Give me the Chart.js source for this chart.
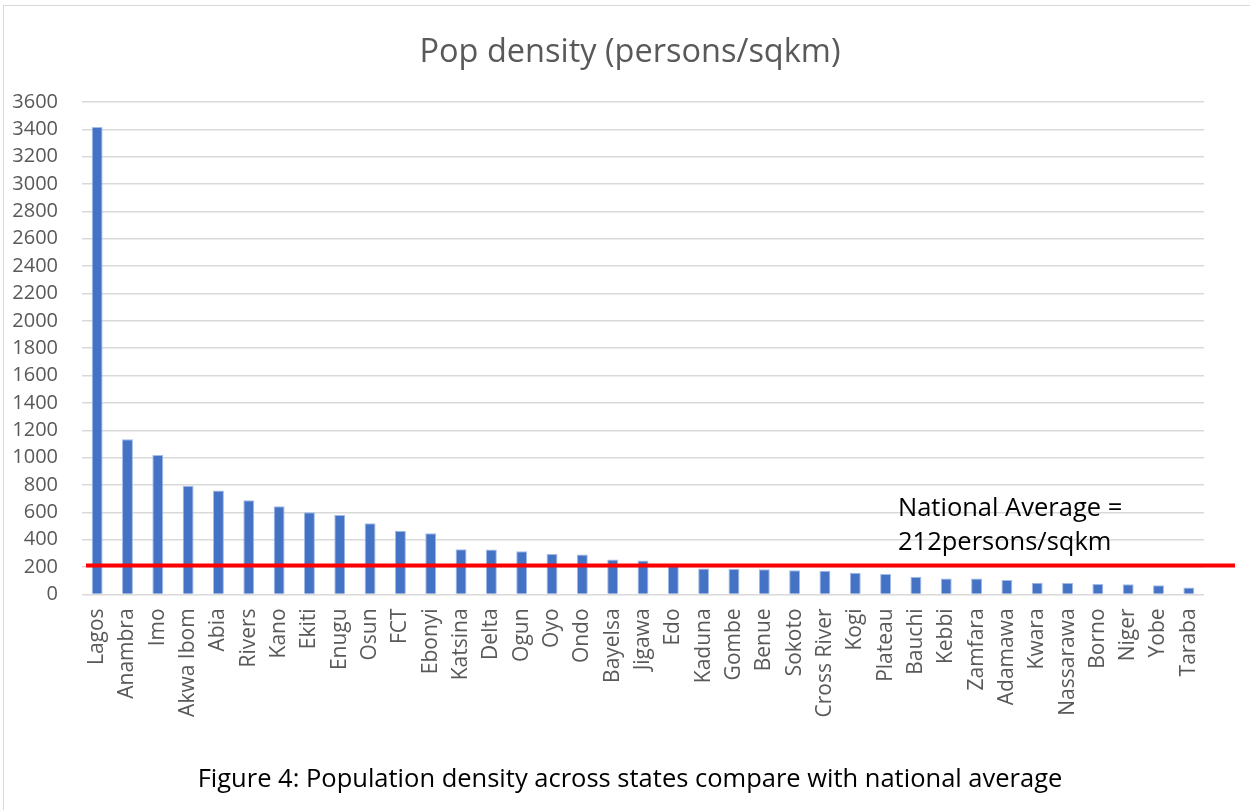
<!DOCTYPE html>
<html>
<head>
<meta charset="utf-8">
<title>Pop density (persons/sqkm)</title>
<script src="https://cdn.jsdelivr.net/npm/chart.js@4/dist/chart.umd.min.js"></script>
<style>
  html, body { margin: 0; padding: 0; background: #ffffff; overflow: hidden; }
  #wrap { position: relative; width: 1250px; height: 810px; }
</style>
</head>
<body>
<div id="wrap"><canvas id="chart" width="1250" height="810"></canvas></div>
<script>
// States, ordered from densest to sparsest
const states = [
  'Lagos', 'Anambra', 'Imo', 'Akwa Ibom', 'Abia', 'Rivers', 'Kano', 'Ekiti',
  'Enugu', 'Osun', 'FCT', 'Ebonyi', 'Katsina', 'Delta', 'Ogun', 'Oyo', 'Ondo',
  'Bayelsa', 'Jigawa', 'Edo', 'Kaduna', 'Gombe', 'Benue', 'Sokoto',
  'Cross River', 'Kogi', 'Plateau', 'Bauchi', 'Kebbi', 'Zamfara', 'Adamawa',
  'Kwara', 'Nassarawa', 'Borno', 'Niger', 'Yobe', 'Taraba'
];

// Population density, persons per square km
const density = [
  3417, 1135, 1020, 794, 760, 689, 645, 600,
  580, 520, 466, 447, 330, 328, 315, 296, 291,
  255, 248, 217, 190, 185, 183, 176,
  173, 159, 149, 129, 117, 116, 105,
  85, 84, 76, 75, 66, 51
];

// National average density
const nationalAverage = 212;

// Value axis range
const yMin = 0;
const yMax = 3600;
const yStep = 200;

const titleText = 'Pop density (persons/sqkm)';
const captionText = 'Figure 4: Population density across states compare with national average';
const averageLabel = ['National Average =', nationalAverage + 'persons/sqkm'];

Chart.defaults.font.family = "'Open Sans', 'Noto Sans', sans-serif";
Chart.defaults.color = '#595959';

// Outer frame of the chart object
const framePlugin = {
  id: 'frame',
  beforeDraw(chart) {
    const ctx = chart.ctx;
    ctx.save();
    ctx.strokeStyle = '#d9d9d9';
    ctx.lineWidth = 1;
    ctx.strokeRect(3.5, 5.5, chart.width + 20, chart.height + 20);
    ctx.restore();
  }
};

// Red reference line for the national average, with its text box
const averageLinePlugin = {
  id: 'averageLine',
  afterDatasetsDraw(chart) {
    const { ctx, chartArea } = chart;
    const y = chart.scales.y.getPixelForValue(nationalAverage);
    ctx.save();
    ctx.strokeStyle = '#ff0000';
    ctx.lineWidth = 4;
    ctx.beginPath();
    ctx.moveTo(chartArea.left + 4, y);
    ctx.lineTo(chartArea.right + 31, y);
    ctx.stroke();

    ctx.fillStyle = '#000000';
    ctx.font = "25.5px 'Open Sans', 'Noto Sans', sans-serif";
    ctx.textAlign = 'left';
    ctx.textBaseline = 'alphabetic';
    const tx = chartArea.left + 816;
    ctx.fillText(averageLabel[0], tx, chartArea.top + 414);
    ctx.fillText(averageLabel[1], tx, chartArea.top + 448);
    ctx.restore();
  }
};

new Chart(document.getElementById('chart'), {
  type: 'bar',
  data: {
    labels: states,
    datasets: [{
      label: 'Pop density (persons/sqkm)',
      data: density,
      backgroundColor: '#4472c4',
      borderColor: '#a3bbe6',
      borderWidth: 1,
      barPercentage: 0.36,
      categoryPercentage: 1.0
    }]
  },
  options: {
    responsive: false,
    animation: false,
    layout: { padding: { left: 10, right: 0, top: 0, bottom: 0 } },
    plugins: {
      legend: { display: false },
      tooltip: { enabled: false },
      title: {
        display: true,
        text: titleText,
        color: '#595959',
        font: { size: 32.5, weight: 'normal' },
        padding: { top: 33, bottom: 30 }
      },
      subtitle: {
        display: true,
        position: 'bottom',
        text: captionText,
        color: '#000000',
        font: { size: 25.5, weight: 'normal' },
        padding: { top: 0, bottom: 15 }
      }
    },
    scales: {
      x: {
        grid: { display: false, drawTicks: false },
        border: { display: false },
        ticks: {
          autoSkip: false,
          minRotation: 90,
          maxRotation: 90,
          padding: 14,
          color: '#595959',
          font: { size: 21 }
        },
        afterFit(scale) { scale.height = 170; }
      },
      y: {
        min: yMin,
        max: yMax,
        grid: { color: '#d9d9d9', lineWidth: 1.5, drawTicks: false },
        border: { display: false },
        ticks: {
          stepSize: yStep,
          padding: 24,
          color: '#595959',
          font: { size: 20 },
          callback: (value) => String(value)
        },
        afterFit(scale) { scale.width = 72; }
      },
      // empty right-hand margin axis, keeps the plot clear of the line's overhang
      yRight: {
        position: 'right',
        display: true,
        grid: { display: false, drawTicks: false },
        border: { display: false },
        ticks: { display: false },
        afterFit(scale) { scale.width = 46; }
      }
    }
  },
  plugins: [framePlugin, averageLinePlugin]
});
</script>
</body>
</html>
